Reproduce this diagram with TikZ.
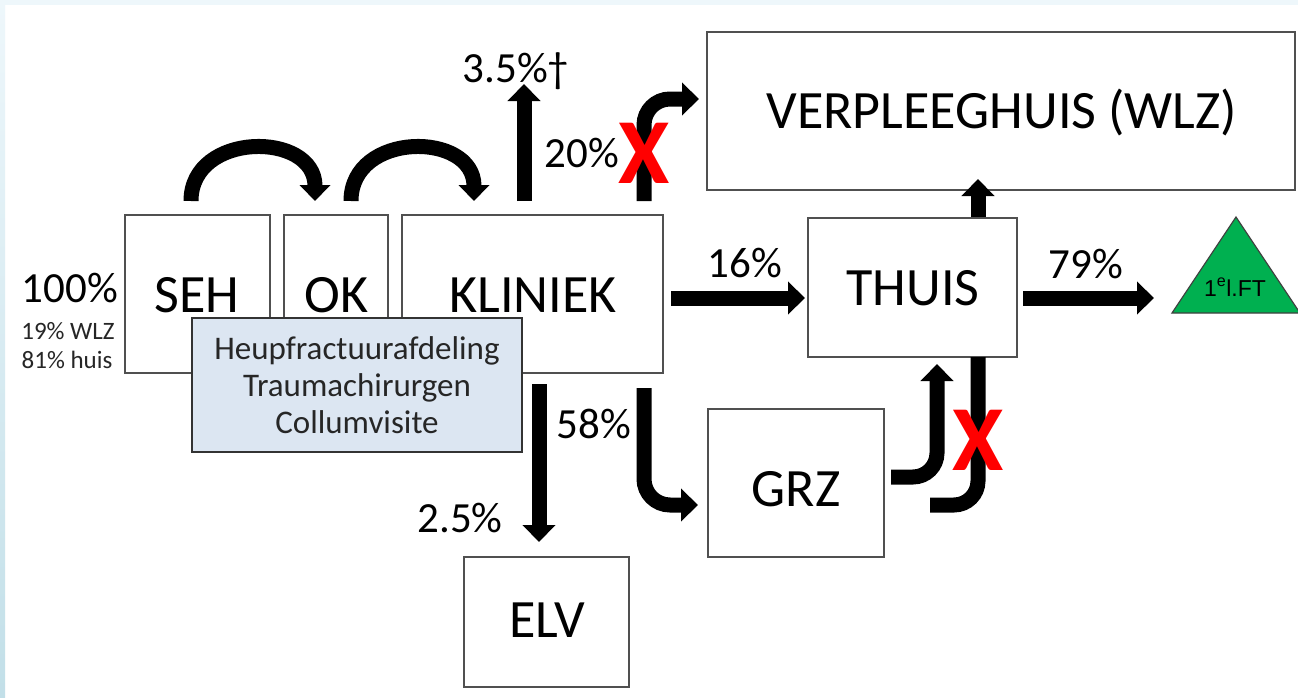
\documentclass[tikz,border=0pt]{standalone}
\usepackage{fontspec}
\setmainfont{Carlito}
\newfontfamily\arialf{Liberation Sans}
\usetikzlibrary{arrows.meta,calc}
\definecolor{boxgray}{HTML}{505050}
\definecolor{lightblue}{HTML}{DCE6F2}
\definecolor{ftgreen}{HTML}{00B050}
\definecolor{stripA}{HTML}{EEF7FB}
\definecolor{stripB}{HTML}{C2DFE8}
\newcommand\fbig{\fontsize{54}{60}\selectfont}
\newcommand\fpct{\fontsize{43}{48}\selectfont}
\newcommand\fsmall{\fontsize{25}{28}\selectfont}
\newcommand\fblue{\fontsize{33}{37}\selectfont}
\newcommand\fmark{\fontsize{93}{100}\selectfont\bfseries}
\newcommand\ftri{\arialf\fontsize{23}{26}\selectfont}
\begin{document}
\begin{tikzpicture}[x=1pt,y=-1pt,
  boxnode/.style={draw=boxgray,line width=2pt,fill=white,rectangle,inner sep=0pt},
  lbl/.style={anchor=base,inner sep=0pt},
  flow/.style={line width=15pt,-{Triangle[width=32pt,length=17pt]}},
  curvflow/.style={line width=15pt,-{Triangle[width=30pt,length=16pt]}},
  plainflow/.style={line width=15pt},
  xmark/.style={anchor=base,inner sep=0pt,text=red,font=\fmark}]
\useasboundingbox (0,0) rectangle (1298,697);
\fill[white] (0,0) rectangle (1298,697);
\shade[top color=stripA,bottom color=stripB] (0,0) rectangle (5,697);
\fill[stripA] (5,0) rectangle (1298,5);

% boxes
\node[boxnode,minimum width=145pt,minimum height=158pt] (seh) at (197.5,294) {};
\node[boxnode,minimum width=104pt,minimum height=158pt] (ok) at (336,294) {};
\node[boxnode,minimum width=261pt,minimum height=158pt] (kliniek) at (532.5,294) {};
\node[boxnode,fill=lightblue,draw=black!80,minimum width=330pt,minimum height=134pt] (blue) at (357,385) {};
\node[boxnode,minimum width=588pt,minimum height=158pt] (verpleeg) at (1001,111) {};
\node[boxnode,minimum width=209pt,minimum height=139pt] (thuis) at (912.5,287.5) {};
\node[boxnode,minimum width=176pt,minimum height=148pt] (grz) at (796,483) {};
\node[boxnode,minimum width=165pt,minimum height=130pt] (elv) at (546.5,622) {};
\draw[fill=ftgreen,draw=black!75,line width=1.2pt] (1172,313) -- (1236,217) -- (1300,313) -- cycle;

% box texts
\node[lbl,font=\fbig] (tseh) at (197,312) {SEH};
\node[lbl,font=\fbig] (tok) at (336.5,312) {OK};
\node[lbl,font=\fbig] (tkl) at (533,312) {KLINIEK};
\node[lbl,font=\fbig] (tvp) at (1002,128) {VERPLEEGHUIS (WLZ)};
\node[lbl,font=\fbig] (tth) at (913,305) {THUIS};
\node[lbl,font=\fbig] (tgrz) at (796,506) {GRZ};
\node[lbl,font=\fbig] (telv) at (547,637) {ELV};
\node[lbl,font=\fblue,text=black!85] (bl1) at (357,359) {Heupfractuurafdeling};
\node[lbl,font=\fblue,text=black!85] (bl2) at (357,396) {Traumachirurgen};
\node[lbl,font=\fblue,text=black!85] (bl3) at (357,433) {Collumvisite};
\node[lbl,font=\ftri] (ft) at (1235,296) {1\textsuperscript{e}l.FT};

% labels
\node[lbl,font=\fpct] (p100) at (70,302) {100\%};
\node[lbl,font=\fsmall,text=black!85] (pwlz) at (68,339) {19\% WLZ};
\node[lbl,font=\fsmall,text=black!85] (phuis) at (67,368) {81\% huis};
\node[lbl,font=\fpct] (p35) at (516,82) {3.5\%†};
\node[lbl,font=\fpct] (p20) at (582,167) {20\%};
\node[lbl,font=\fpct] (p16) at (745,277) {16\%};
\node[lbl,font=\fpct] (p79) at (1086,278) {79\%};
\node[lbl,font=\fpct] (p58) at (594,438) {58\%};
\node[lbl,font=\fpct] (p25) at (460,532) {2.5\%};

% connectors
\coordinate (dead) at ($(kliniek.north)+(-8.5,-130)$);
\draw[curvflow] ($(seh.north)+(-6.5,-13)$) .. controls ($(seh.north)+(-6.5,-83)$) and ($(ok.north)+(-21,-83)$) .. ($(ok.north)+(-21,-13)$);
\draw[curvflow] ($(ok.north)+(15,-13)$) .. controls ($(ok.north)+(15,-83)$) and ($(kliniek.north)+(-58.5,-83)$) .. ($(kliniek.north)+(-58.5,-13)$);
\draw[flow] ($(kliniek.north)+(-8.5,-13)$) -- (dead);
\draw[flow,rounded corners=26pt] ($(kliniek.north)+(111.5,-13)$) |- ($(verpleeg.west)+(-7,-12)$);
\draw[flow] ($(kliniek.east)+(7,4)$) -- ($(thuis.west)+(-2,10.5)$);
\draw[flow] ($(thuis.north)+(65.5,0)$) -- ($(verpleeg.south)+(-23,-12)$);
\draw[flow] ($(thuis.east)+(5,10.5)$) -- ($(thuis.east)+(136,10.5)$);
\draw[flow] ($(kliniek.south)+(6.5,10)$) -- ($(elv.north)+(-7.5,-14)$);
\draw[flow,rounded corners=26pt] ($(kliniek.south)+(111.5,14)$) |- ($(grz.west)+(-9,22)$);
\draw[flow,rounded corners=24pt] ($(grz.east)+(6,-6)$) -| ($(thuis.south)+(24.5,6)$);
\draw[plainflow,rounded corners=24pt] ($(thuis.south)+(65.5,-1)$) |- ($(grz.east)+(45,22)$);

% red crosses
\node[xmark] (x1) at (644,183) {X};
\node[xmark] (x2) at (978,470) {X};
\end{tikzpicture}
\end{document}
